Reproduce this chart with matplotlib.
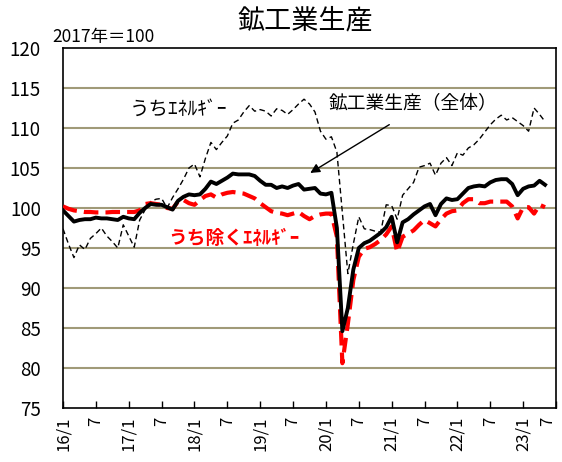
import numpy as np
import matplotlib
matplotlib.use("Agg")
import matplotlib.pyplot as plt

plt.rcParams['font.family'] = ['Liberation Sans Narrow', 'Noto Sans CJK JP', 'DejaVu Sans']

# --- データ（2017年＝100, 月次 2016/1〜2023/5） ---
total = [
    99.7, 99.0, 98.3, 98.5, 98.6, 98.6, 98.8, 98.7, 98.7, 98.6, 98.5, 98.9,
    98.7, 98.6, 99.4, 100.0, 100.5, 100.4, 100.4, 100.1, 99.8, 100.9, 101.4, 101.7,
    101.6, 101.7, 102.4, 103.3, 103.0, 103.4, 103.8, 104.3, 104.2, 104.2, 104.2, 104.0,
    103.4, 102.9, 102.9, 102.5, 102.7, 102.5, 102.8, 103.0, 102.3, 102.4, 102.5, 101.8,
    101.7, 101.9, 97.5, 84.6, 87.5, 92.3, 95.0, 95.6, 95.9, 96.4, 96.9, 97.6,
    98.9, 95.7, 98.2, 98.6, 99.2, 99.7, 100.2, 100.5, 99.1, 100.5, 101.2, 101.0,
    101.1, 101.8, 102.5, 102.7, 102.8, 102.7, 103.2, 103.5, 103.6, 103.6, 103.0, 101.6,
    102.4, 102.7, 102.8, 103.4, 102.9,
]
ex_energy = [
    100.2, 99.9, 99.7, 99.6, 99.5, 99.5, 99.45, 99.45, 99.45, 99.5, 99.5, 99.5,
    99.5, 99.5, 99.7, 100.5, 100.6, 100.5, 100.4, 100.0, 99.9, 100.8, 101.0, 100.6,
    100.4, 101.0, 101.5, 101.7, 101.3, 101.7, 101.9, 102.0, 101.9, 101.8, 101.5, 101.2,
    100.6, 100.1, 99.6, 99.4, 99.3, 99.1, 99.3, 99.5, 99.0, 98.6, 99.0, 99.2,
    99.3, 99.3, 96.4, 80.6, 85.5, 91.0, 93.9, 94.9, 95.1, 95.5, 96.0, 96.7,
    97.7, 94.5, 96.4, 96.8, 97.2, 97.9, 98.5, 98.1, 97.7, 98.6, 99.3, 99.6,
    99.7, 100.6, 101.1, 101.1, 100.6, 100.6, 100.8, 100.8, 100.8, 100.8, 100.2, 98.7,
    100.1, 100.1, 99.3, 100.4, 100.1,
]
energy = [
    97.4, 95.5, 93.8, 95.4, 94.8, 96.2, 96.8, 97.5, 96.5, 95.8, 95.0, 97.9,
    96.5, 95.1, 98.5, 99.8, 100.8, 101.1, 101.2, 100.0, 101.3, 102.4, 103.6, 105.0,
    105.5, 103.9, 106.2, 108.2, 107.3, 108.2, 109.0, 110.6, 111.0, 112.0, 112.8, 112.1,
    112.3, 112.1, 111.5, 112.4, 112.2, 111.7, 112.3, 113.0, 113.6, 113.0, 112.0, 109.6,
    108.6, 108.9, 107.0, 99.4, 91.8, 95.5, 98.9, 97.4, 97.3, 97.1, 97.0, 100.4,
    100.3, 98.6, 101.6, 102.4, 103.2, 105.1, 105.3, 105.6, 104.1, 105.6, 106.3, 105.3,
    106.9, 106.6, 107.5, 107.9, 108.6, 109.5, 110.4, 111.1, 111.6, 111.0, 111.3, 110.8,
    110.3, 109.6, 112.5, 111.7, 110.8,
]
tick_labels = ['16/1', '7', '17/1', '7', '18/1', '7', '19/1', '7', '20/1', '7',
               '21/1', '7', '22/1', '7', '23/1', '7']

x = np.arange(len(total))

fig = plt.figure(figsize=(5.62, 4.62), dpi=100)
ax = fig.add_axes([63/562, 54/462, 493/562, 360/462])

# グリッド線（オリーブ色）
for v in range(80, 120, 5):
    ax.axhline(v, color='#a09a78', lw=1.5, zorder=1)

ax.plot(x, energy, color='black', lw=1.0, ls=(0, (4, 2.5)), zorder=3)
ax.plot(x, ex_energy, color='red', lw=3.0, ls=(0, (3.5, 1.7)), zorder=4)
ax.plot(x, total, color='black', lw=2.8, zorder=5, solid_joinstyle='round')

ax.set_xlim(0, 90)
ax.set_ylim(75, 120)
ax.set_yticks(range(75, 121, 5))
ax.set_xticks(range(0, 91, 6))
ax.set_xticklabels(tick_labels, rotation=90, fontsize=12)
# 右端の「7」が切れないよう寄せる
ax.get_xticklabels()[-1].set_horizontalalignment('right')
ax.tick_params(axis='y', length=0, pad=16, labelsize=13.5)
ax.tick_params(axis='x', direction='in', length=5, width=1, pad=6)
for s in ax.spines.values():
    s.set_color('black')
    s.set_linewidth(1.2)

jp = ['Noto Sans CJK JP', 'DejaVu Sans']
fig.text(305/562, 1 - 21/462, '鉱工業生産', ha='center', va='center', fontsize=19.5, family=jp)
fig.text(52/562, 1 - 37/462, '2017年＝100', ha='left', va='center', fontsize=12.5, family=jp)

ax.text(12.2, 112.3, 'うちｴﾈﾙｷﾞｰ', fontsize=14, family=jp, va='center')
ax.text(48.5, 113.1, '鉱工業生産（全体）', fontsize=13.5, family=jp, va='center')
ax.text(19.3, 96.2, 'うち除くｴﾈﾙｷﾞｰ', fontsize=13.5, family=jp, va='center',
        color='red', fontweight='bold')
ax.annotate('', xy=(44.7, 104.2), xytext=(60, 110.6),
            arrowprops=dict(arrowstyle='-|>', color='black', lw=1, mutation_scale=14))

fig.savefig('out.png', dpi=100)
